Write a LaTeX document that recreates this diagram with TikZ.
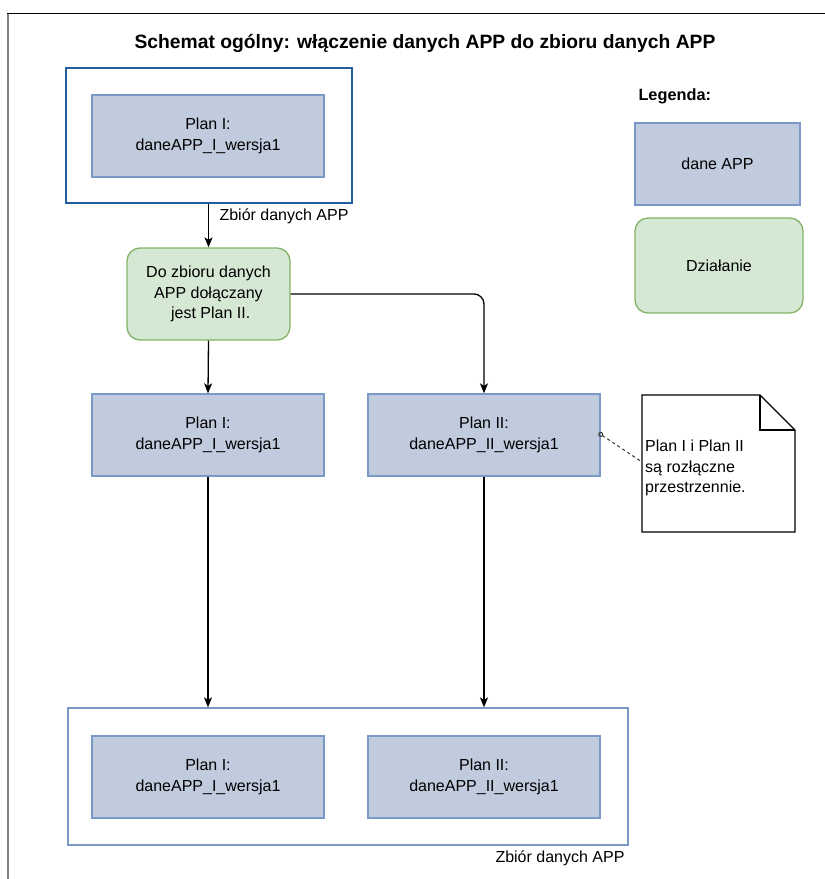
\documentclass[tikz,border=0pt]{standalone}
\usepackage{fontspec}
\setmainfont{Liberation Sans}
\usetikzlibrary{arrows.meta}
\definecolor{blfill}{RGB}{193,203,222}
\definecolor{bldraw}{RGB}{122,152,200}
\definecolor{bldark}{RGB}{36,92,160}
\definecolor{grfill}{RGB}{213,232,212}
\definecolor{grdraw}{RGB}{130,179,102}
\definecolor{framegray}{RGB}{128,128,128}
\tikzset{
  txt/.style={font=\fontsize{16}{20.5}\selectfont, text=black},
  databox/.style={txt, draw=bldraw, fill=blfill, line width=1.3pt, align=center,
    minimum width=232pt, minimum height=82pt, inner sep=0pt},
  actbox/.style={txt, draw=grdraw, fill=grfill, line width=1.3pt, align=center,
    rounded corners=13pt, inner sep=0pt},
  container/.style={draw, fill=white, line width=1.3pt, inner sep=0pt},
  arr/.style={line width=1.3pt, -{Stealth[length=10pt,width=8pt,inset=2.5pt]}},
}
\begin{document}
\begin{tikzpicture}[x=1pt,y=-1pt]
\useasboundingbox (0,0) rectangle (825,879);
% outer frame
\draw[framegray, line width=2.2pt] (8,13) -- (8,879);
\draw[black, line width=1.6pt] (7,13.5) -- (825,13.5);
% title
\node[txt, font=\fontsize{19.3}{23}\selectfont\bfseries] (title) at (425,43) {Schemat ogólny: włączenie danych APP do zbioru danych APP};
% top container
\node[container, draw=bldark, minimum width=286pt, minimum height=135pt] (topc) at (209,135.5) {};
\node[databox] (p1a) at (208,136) {Plan I:\\daneAPP\_I\_wersja1};
% green action
\node[actbox, minimum width=163pt, minimum height=92pt] (act) at (208.5,294) {Do zbioru danych\\APP dołączany\\\ jest Plan II.};
% middle boxes
\node[databox] (p1b) at (208,435) {Plan I:\\daneAPP\_I\_wersja1};
\node[databox] (p2b) at (484,435) {Plan II:\\daneAPP\_II\_wersja1};
% bottom container
\node[container, draw=bldraw, minimum width=560pt, minimum height=137pt] (botc) at (348,776.5) {};
\node[databox] (p1c) at (208,777) {Plan I:\\daneAPP\_I\_wersja1};
\node[databox] (p2c) at (484,777) {Plan II:\\daneAPP\_II\_wersja1};
\node[txt, anchor=east] (botlabel) at (628,858) {Zbiór danych APP};
% connectors
\draw[arr] (act.north |- topc.south) -- (act.north);
\node[txt, anchor=west] (toplabel) at (216,216) {Zbiór danych APP};
\draw[arr] (act.south) -- (p1b.north);
\draw[arr, rounded corners=10pt] (act.east) -| (p2b.north);
\draw[arr] (p1b.south) -- (p1b.south |- botc.north);
\draw[arr] (p2b.south) -- (p2b.south |- botc.north);
% note
\draw[black, line width=1.2pt, fill=white] (642,395) -- (760,395) -- (795,430) -- (795,532) -- (642,532) -- cycle;
\draw[black, line width=1.2pt] (760,395) -- (760,430) -- (795,430);
\node[txt, anchor=west, align=left, inner sep=0pt] (note) at (645,468) {Plan I i Plan II\\są rozłączne\\przestrzennie.};
\coordinate (noteL) at (642,462);
\draw[line width=1pt, dashed, dash pattern=on 3pt off 3pt, gray!40!black, {Circle[open,length=5pt,width=5pt]}-] ([xshift=-2pt,yshift=2pt]p2b.east) -- (noteL);
% legend
\node[txt, font=\fontsize{16.3}{20.5}\selectfont\bfseries, anchor=west] (leg) at (635,96) {Legenda:};
\node[databox, minimum width=165pt, minimum height=82pt] (legd) at (717.5,164) {dane APP};
\node[actbox, minimum width=168pt, minimum height=95pt] (lega) at (719,265.5) {Działanie};
\end{tikzpicture}
\end{document}
